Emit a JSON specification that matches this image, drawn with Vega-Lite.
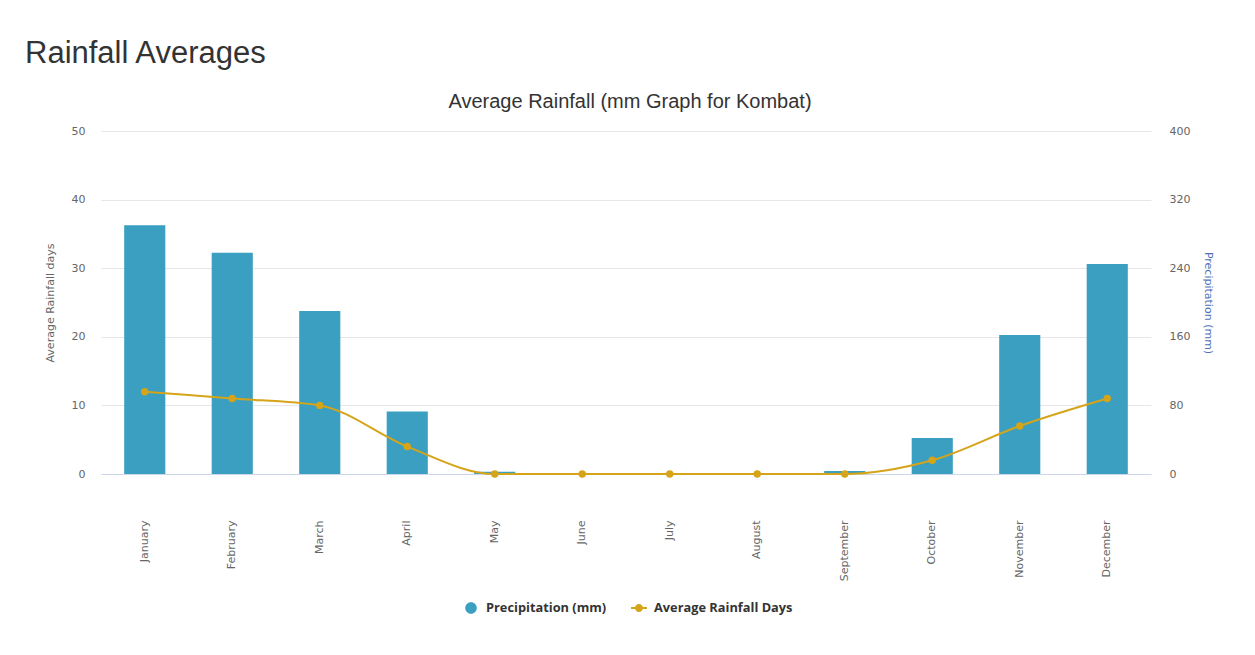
{
  "$schema": "https://vega.github.io/schema/vega-lite/v6.json",
  "background": "white",
  "padding": {"left": 25, "top": 38, "right": 10, "bottom": 10},
  "title": {
    "text": "Rainfall Averages",
    "anchor": "start",
    "font": "Liberation Sans",
    "fontSize": 31,
    "fontWeight": "normal",
    "color": "#333333",
    "offset": 22,
    "dx": -19
  },
  "data": {
    "values": [
      {"month": "January", "precip": 290, "days": 12},
      {"month": "February", "precip": 258, "days": 11},
      {"month": "March", "precip": 190, "days": 10},
      {"month": "April", "precip": 73, "days": 4},
      {"month": "May", "precip": 2.5, "days": 0},
      {"month": "June", "precip": 0, "days": 0},
      {"month": "July", "precip": 0, "days": 0},
      {"month": "August", "precip": 0, "days": 0},
      {"month": "September", "precip": 3.5, "days": 0},
      {"month": "October", "precip": 42, "days": 2},
      {"month": "November", "precip": 162, "days": 7},
      {"month": "December", "precip": 245, "days": 11}
    ]
  },
  "vconcat": [
    {
      "title": {
        "text": "Average Rainfall (mm Graph for Kombat)",
        "anchor": "middle",
        "frame": "group",
        "font": "Liberation Sans",
        "fontSize": 20,
        "fontWeight": "normal",
        "color": "#333333",
        "offset": 13,
        "dx": 4
      },
      "width": 1050,
      "height": 343,
      "encoding": {
        "x": {
          "field": "month",
          "type": "nominal",
          "sort": null,
          "scale": {"paddingInner": 0.53, "paddingOuter": 0.265},
          "axis": {
            "title": null,
            "labelAngle": -90,
            "labelPadding": 46,
            "ticks": false,
            "domainColor": "#ccd6eb",
            "labelColor": "#666666",
            "labelFont": "DejaVu Sans",
            "labelFontSize": 11
          }
        }
      },
      "layer": [
        {
          "mark": {"type": "bar"},
          "encoding": {
            "y": {
              "field": "precip",
              "type": "quantitative",
              "scale": {"domain": [0, 400], "nice": false},
              "axis": {
                "orient": "right",
                "title": "Precipitation (mm)",
                "titleColor": "#4f72b8",
                "titleFont": "DejaVu Sans",
                "titleFontSize": 11,
                "titleFontWeight": "normal",
                "titlePadding": 13,
                "values": [0, 80, 160, 240, 320, 400],
                "grid": false,
                "domain": false,
                "ticks": false,
                "labelPadding": 18,
                "labelColor": "#666666",
                "labelFont": "DejaVu Sans",
                "labelFontSize": 11
              }
            },
            "color": {
              "datum": "Precipitation (mm)",
              "scale": {
                "domain": ["Precipitation (mm)", "Average Rainfall Days"],
                "range": ["#3a9fc1", "#d6a419"]
              },
              "legend": {
                "title": null,
                "orient": "none",
                "legendX": 362,
                "legendY": 469,
                "direction": "horizontal",
                "labelFont": "Open Sans",
                "labelFontSize": 12.8,
                "labelFontWeight": "bold",
                "labelColor": "#333333",
                "labelOffset": 7,
                "columnPadding": 24,
                "symbolSize": 256,
                "symbolStrokeWidth": 0,
                "encode": {
                  "symbols": {
                    "update": {
                      "shape": {"signal": "datum.value === 'Average Rainfall Days' ? 'M-1,-0.125L1,-0.125L1,0.125L-1,0.125Z M-0.5,0A0.5,0.5 0 1,1 0.5,0A0.5,0.5 0 1,1 -0.5,0Z' : 'M-0.72,0A0.72,0.72 0 1,1 0.72,0A0.72,0.72 0 1,1 -0.72,0Z'"},
                      "size": {"value": 256},
                      "fill": {"signal": "datum.value === 'Average Rainfall Days' ? '#d6a419' : '#3a9fc1'"},
                      "stroke": {"value": "transparent"},
                      "strokeWidth": {"value": 0},
                      "opacity": {"value": 1}
                    }
                  }
                }
              }
            }
          }
        },
        {
          "mark": {
            "type": "line",
            "interpolate": "monotone",
            "strokeWidth": 2,
            "point": {"filled": true, "size": 55, "opacity": 1}
          },
          "encoding": {
            "y": {
              "field": "days",
              "type": "quantitative",
              "scale": {"domain": [0, 50], "nice": false},
              "axis": {
                "orient": "left",
                "title": "Average Rainfall days",
                "titleColor": "#666666",
                "titleFont": "DejaVu Sans",
                "titleFontSize": 11,
                "titleFontWeight": "normal",
                "titlePadding": 16,
                "values": [0, 10, 20, 30, 40, 50],
                "grid": true,
                "gridColor": "#e6e6e6",
                "domain": false,
                "ticks": false,
                "labelPadding": 16,
                "labelColor": "#666666",
                "labelFont": "DejaVu Sans",
                "labelFontSize": 11
              }
            },
            "color": {"datum": "Average Rainfall Days"}
          }
        }
      ],
      "resolve": {"scale": {"y": "independent"}}
    }
  ],
  "config": {
    "view": {"stroke": null},
    "bar": {"opacity": 1}
  }
}
